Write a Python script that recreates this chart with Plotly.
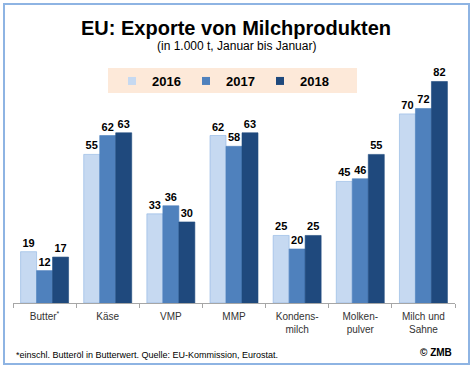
import plotly.graph_objects as go

categories = ["Butter<sup>*</sup>", "Käse", "VMP", "MMP", "Kondens-<br>milch", "Molken-<br>pulver", "Milch und<br>Sahne"]
years = ["2016", "2017", "2018"]
v2016 = [19, 55, 33, 62, 25, 45, 70]
v2017 = [12, 62, 36, 58, 20, 46, 72]
v2018 = [17, 63, 30, 63, 25, 55, 82]
colors = ["#c6d9f1", "#4f81bd", "#1f497d"]

W, H = 474, 369
L, R, T, B = 13, 19, 65, 66
PW, PH = W - L - R, H - T - B


def px(x):
    return (x - L) / PW


def py(y):
    return (H - B - y) / PH


fig = go.Figure()
label_font = dict(family="Liberation Sans Narrow, Arial Narrow, Liberation Sans, Arial", size=11,
                  color="#000000", weight="bold")
for name, vals, col in zip(years, [v2016, v2017, v2018], colors):
    fig.add_trace(go.Bar(
        x=categories, y=vals, name=name,
        marker=dict(color=col, line=dict(width=0.6, color="#8db3e2" if name == "2016" else col)),
        text=[str(v) for v in vals], textposition="outside", textfont=label_font,
        showlegend=False, cliponaxis=False, hoverinfo="skip",
    ))
    fig.add_trace(go.Scatter(
        x=[None], y=[None], mode="markers", name=name,
        marker=dict(symbol="square", size=8, color=col), showlegend=True,
    ))

fig.update_layout(
    width=W, height=H,
    paper_bgcolor="white", plot_bgcolor="white",
    margin=dict(l=L, r=R, t=T, b=B),
    barmode="group", bargap=0.24, bargroupgap=0,
    showlegend=True,
    legend=dict(orientation="h", x=px(112), y=py(81), xanchor="left", yanchor="middle",
                bgcolor="rgba(0,0,0,0)",
                font=dict(family="Liberation Sans, Arial", size=13, color="#000000", weight="bold"),
                entrywidth=29, entrywidthmode="pixels", itemwidth=30),
    font=dict(family="Liberation Sans, Arial"),
    xaxis=dict(type="category", showline=True, linecolor="#a6a6a6", linewidth=1,
               ticks="outside", tickson="boundaries", ticklen=4, tickcolor="#a6a6a6",
               ticklabelstandoff=4,
               tickfont=dict(family="Liberation Sans, Arial", size=10, color="#333333"),
               showgrid=False, zeroline=False, fixedrange=True),
    yaxis=dict(range=[0, 88.1], visible=False, showgrid=False, zeroline=False),
    shapes=[
        dict(type="rect", xref="paper", yref="paper",
             x0=px(108), x1=px(357), y0=py(93), y1=py(68),
             fillcolor="#fde9d9", line=dict(width=0), layer="below"),
        dict(type="rect", xref="paper", yref="paper",
             x0=px(4), x1=px(469), y0=py(364), y1=py(4),
             line=dict(color="#8eb4e3", width=2), fillcolor="rgba(0,0,0,0)", layer="below"),
    ],
    annotations=[
        dict(text="<b>EU: Exporte von Milchprodukten</b>", xref="paper", yref="paper",
             x=px(236), y=py(28), xanchor="center", yanchor="middle",
             showarrow=False, font=dict(family="Liberation Sans, Arial", size=20, color="#000000")),
        dict(text="(in 1.000 t, Januar bis Januar)", xref="paper", yref="paper",
             x=px(236), y=py(46), xanchor="center", yanchor="middle",
             showarrow=False, font=dict(family="Liberation Sans, Arial", size=12, color="#000000")),
        dict(text="*einschl. Butteröl in Butterwert. Quelle: EU-Kommission, Eurostat.", xref="paper", yref="paper",
             x=px(14), y=py(355), xanchor="left", yanchor="middle",
             showarrow=False, font=dict(family="Liberation Sans Narrow, Liberation Sans, Arial", size=9, color="#000000")),
        dict(text="<b>© ZMB</b>", xref="paper", yref="paper",
             x=px(454), y=py(352), xanchor="right", yanchor="middle",
             showarrow=False, font=dict(family="Liberation Sans, Arial", size=10, color="#000000")),
    ],
)

fig.write_html("out.html", post_script="document.body.style.margin='0';",
               config={"displayModeBar": False})
